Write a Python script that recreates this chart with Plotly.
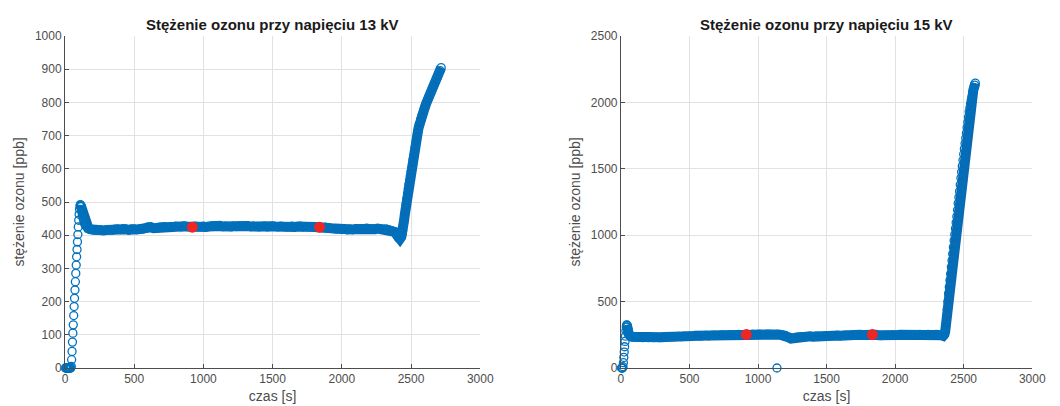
import plotly.graph_objects as go

# ---------------- 13 kV data ----------------
t13_start = [3, 6, 9, 12, 15, 18, 21, 24, 27, 30, 33, 36, 39, 42]
c13_start = [0, 0, 0, 0, 0, 0, 0, 0, 0, 0, 0, 0, 0, 0]

t13_rise = [45, 48, 51, 54, 57, 60, 63, 66, 69, 72, 75, 78, 81, 84, 87, 90,
            93, 96, 99, 102, 105, 108, 111]
c13_rise = [5, 25, 50, 78, 105, 130, 158, 185, 210, 235, 260, 285, 310, 335,
            357, 380, 402, 425, 445, 463, 478, 488, 492]

t13_decay = [114, 117, 120, 123, 126, 130, 135, 140, 146, 152, 160, 170, 180,
             190, 200, 210, 220, 230]
c13_decay = [490, 486, 478, 468, 460, 452, 444, 437, 431, 427, 423, 420, 418,
             417, 416, 416, 415, 415]

# plateau sampled every 20 s starting at 240 s
c13_flat = [415, 416, 414, 416, 417, 415, 418, 419, 417, 420,
            418, 416, 419, 418, 417, 419, 418, 421, 425, 424,
            421, 422, 424, 425, 426, 424, 426, 425, 427, 426,
            425, 427, 426, 425, 426, 427, 425, 426, 427, 425,
            426, 428, 427, 429, 428, 426, 427, 426, 425, 427,
            426, 428, 427, 429, 428, 426, 427, 426, 425, 426,
            427, 425, 426, 427, 426, 425, 427, 426, 425, 426,
            427, 425, 426, 427, 425, 426, 425, 426, 425, 424,
            425, 423, 424, 422, 421, 420, 418, 419, 417, 418,
            416, 418, 417, 419, 418, 420, 419, 421, 420, 419,
            418, 420, 419, 418, 419, 417, 414, 410]
t13_flat = [240 + 20 * i for i in range(len(c13_flat))]

t13_end = [2390, 2400, 2410, 2420,
           2430, 2435, 2440, 2445, 2450, 2455, 2460, 2465, 2470, 2475, 2480,
           2485, 2490, 2495, 2500, 2505, 2510, 2515, 2520, 2525, 2530, 2535,
           2540, 2545, 2550, 2555, 2560,
           2570, 2580, 2590, 2600, 2610, 2620, 2630, 2640, 2650, 2660, 2670,
           2680, 2690, 2700, 2710, 2718]
c13_end = [405, 397, 391, 389,
           395, 402, 415, 430, 445, 462, 478, 494, 510, 525, 540,
           553, 565, 578, 590, 603, 615, 628, 640, 653, 665, 678,
           690, 702, 713, 724, 735,
           749, 762, 774, 785, 797, 808, 818, 828, 838, 847, 857,
           866, 876, 886, 896, 905]

t13_mark = [920, 1839]
c13_mark = [424, 424]

# ---------------- 15 kV data ----------------
t15_start = [4, 8, 12, 15, 18, 21, 24, 27, 30, 33, 36, 39]
c15_start = [0, 0, 0, 10, 40, 80, 120, 160, 200, 240, 280, 310]

t15_peak = [42, 45, 48, 51, 54, 57, 62, 70, 80, 90, 100]
c15_peak = [325, 322, 310, 290, 265, 250, 245, 240, 236, 235, 233]

# plateau sampled every 20 s starting at 120 s
c15_flat = [232, 230, 229, 231, 228, 230, 229, 231, 228, 232,
            234, 233, 236, 235, 237, 238, 236, 239, 240, 241,
            240, 242, 243, 241, 244, 245, 243, 246, 247, 245,
            248, 249, 247, 250, 251, 249, 252, 253, 251, 252,
            253, 252, 254, 253, 255, 254, 253, 255, 254, 253,
            252, 253, 251, 250, 245, 232, 222, 226, 232, 235,
            236, 235, 237, 238, 236, 239, 240, 238, 240, 241,
            243, 242, 244, 245, 243, 246, 247, 245, 248, 247,
            249, 250, 248, 251, 250, 251, 252, 250, 246, 244,
            246, 248, 247, 249, 250, 248, 250, 251, 249, 252,
            251, 250, 252, 253, 251, 252, 253, 251, 252, 253,
            251, 246]
t15_flat = [120 + 20 * i for i in range(len(c15_flat))]

t15_outlier = [1138]
c15_outlier = [0]

# final rise sampled every 5 s starting at 2350 s
c15_end = [242, 245, 255, 275, 320, 380, 440, 500, 560, 610,
           660, 710, 760, 810, 860, 910, 960, 1005, 1050, 1095,
           1140, 1190, 1240, 1285, 1330, 1380, 1430, 1475, 1520, 1565,
           1610, 1650, 1690, 1730, 1770, 1810, 1850, 1890, 1930, 1960,
           1990, 2015, 2040, 2065, 2090, 2110, 2130, 2145]
t15_end = [2350 + 5 * i for i in range(len(c15_end))]

t15_mark = [915, 1834]
c15_mark = [252, 252]

x_ticks = [0, 500, 1000, 1500, 2000, 2500, 3000]
y13_ticks = [0, 100, 200, 300, 400, 500, 600, 700, 800, 900, 1000]
y15_ticks = [0, 500, 1000, 1500, 2000, 2500]

title13 = "Stężenie ozonu przy napięciu 13 kV"
title15 = "Stężenie ozonu przy napięciu 15 kV"
xlabel = "czas [s]"
ylabel = "stężenie ozonu [ppb]"

# ---------------- figure ----------------
dense13_t = t13_decay + t13_flat + t13_end
dense13_c = c13_decay + c13_flat + c13_end
t13 = t13_start + t13_rise + dense13_t
c13 = c13_start + c13_rise + dense13_c

dense15_t = t15_peak + t15_flat + t15_end
dense15_c = c15_peak + c15_flat + c15_end
t15 = t15_start + dense15_t + t15_outlier
c15 = c15_start + dense15_c + c15_outlier

BLUE = "#0072BD"
BAND = "#0a69b2"
RED = "#ee2624"
AX = "#4d4d4d"
GRID = "#e2e2e2"
FONT = "Liberation Sans, Arial, sans-serif"

fig = go.Figure()
open_marker = dict(symbol="circle-open", size=8, color=BLUE, line=dict(width=1.3, color=BLUE))
red_marker = dict(symbol="circle", size=11, color=RED, line=dict(width=0))

# dense sampling band (the overlapping circles of the densely sampled record)
fig.add_trace(go.Scatter(x=dense13_t, y=dense13_c, mode="lines",
                         line=dict(color=BAND, width=10), xaxis="x", yaxis="y",
                         cliponaxis=False, hoverinfo="skip"))
fig.add_trace(go.Scatter(x=t13, y=c13, mode="markers", marker=open_marker,
                         xaxis="x", yaxis="y", cliponaxis=False, hoverinfo="skip"))
fig.add_trace(go.Scatter(x=t13_mark, y=c13_mark, mode="markers", marker=red_marker,
                         xaxis="x", yaxis="y", cliponaxis=False, hoverinfo="skip"))

fig.add_trace(go.Scatter(x=dense15_t, y=dense15_c, mode="lines",
                         line=dict(color=BAND, width=10), xaxis="x2", yaxis="y2",
                         cliponaxis=False, hoverinfo="skip"))
fig.add_trace(go.Scatter(x=t15, y=c15, mode="markers", marker=open_marker,
                         xaxis="x2", yaxis="y2", cliponaxis=False, hoverinfo="skip"))
fig.add_trace(go.Scatter(x=t15_mark, y=c15_mark, mode="markers", marker=red_marker,
                         xaxis="x2", yaxis="y2", cliponaxis=False, hoverinfo="skip"))

W, H = 1060, 406

def xaxis(dom, anchor):
    return dict(domain=dom, anchor=anchor, range=[0, 3000], tickvals=x_ticks,
                showgrid=True, gridcolor=GRID, gridwidth=1, zeroline=False,
                showline=True, linecolor=AX, linewidth=1, ticks="inside",
                ticklen=4, tickcolor=AX, tickfont=dict(size=12, color=AX),
                title=dict(text=xlabel, font=dict(size=14, color=AX), standoff=5))

def yaxis(rng, ticks, anchor):
    return dict(domain=[0, 1], anchor=anchor, range=rng, tickvals=ticks,
                showgrid=True, gridcolor=GRID, gridwidth=1, zeroline=False,
                showline=True, linecolor=AX, linewidth=1, ticks="inside",
                ticklen=4, tickcolor=AX, tickfont=dict(size=12, color=AX),
                title=dict(text=ylabel, font=dict(size=14, color=AX), standoff=6))

dom1 = [63 / W, 485 / W]
dom2 = [628 / W, 1046 / W]

fig.update_layout(
    width=W, height=H,
    margin=dict(l=0, r=0, t=36, b=38, pad=0),
    paper_bgcolor="white", plot_bgcolor="white",
    font=dict(family=FONT, color=AX),
    showlegend=False,
    xaxis=xaxis(dom1, "y"),
    yaxis=yaxis([0, 1000], y13_ticks, "x"),
    xaxis2=xaxis(dom2, "y2"),
    yaxis2=yaxis([0, 2500], y15_ticks, "x2"),
    annotations=[
        dict(text="<b>" + title13 + "</b>", xref="paper", yref="paper",
             x=(dom1[0] + dom1[1]) / 2, y=(368 - 24) / 332, xanchor="center",
             yanchor="middle", showarrow=False, font=dict(size=15, color="#1a1a1a")),
        dict(text="<b>" + title15 + "</b>", xref="paper", yref="paper",
             x=(dom2[0] + dom2[1]) / 2, y=(368 - 24) / 332, xanchor="center",
             yanchor="middle", showarrow=False, font=dict(size=15, color="#1a1a1a")),
    ],
)

fig.write_html("out.html")
